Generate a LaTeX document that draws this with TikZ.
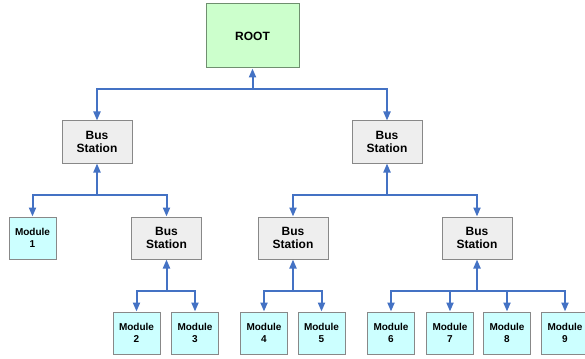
\documentclass[tikz,border=0pt]{standalone}
\usepackage{fontspec}
\setmainfont{Liberation Sans}
\usetikzlibrary{arrows.meta}
\definecolor{linkblue}{HTML}{4472C4}
\definecolor{rootfill}{HTML}{CCFFCC}
\definecolor{rootdraw}{HTML}{6F8F6F}
\definecolor{bsfill}{HTML}{EEEEEE}
\definecolor{boxdraw}{HTML}{888888}
\definecolor{modfill}{HTML}{CCFFFF}
\tikzset{
  rootbox/.style={draw=rootdraw, line width=1pt, fill=rootfill, minimum width=93pt, minimum height=64pt, inner sep=0pt, font=\fontsize{12}{14}\selectfont\bfseries, align=center},
  busbox/.style={draw=boxdraw, line width=1pt, fill=bsfill, minimum width=70pt, minimum height=42pt, inner sep=0pt, font=\fontsize{12}{13}\selectfont\bfseries, align=center},
  modbox/.style={draw=boxdraw, line width=1pt, fill=modfill, minimum width=47pt, minimum height=42pt, inner sep=0pt, font=\fontsize{10}{12}\selectfont\bfseries, align=center},
  link/.style={draw=linkblue, line width=2pt},
  tip/.tip={Triangle[width=7pt,length=9pt]}
}
\begin{document}
\begin{tikzpicture}[x=1pt,y=-1pt]
\useasboundingbox (0,0) rectangle (585,358);
\node[rootbox] (root) at (252.5,36) {ROOT};
\node[busbox] (bs1) at (97,142) {Bus\\Station};
\node[busbox] (bs2) at (387,142) {Bus\\Station};
\node[modbox] (m1) at (32.5,238) {Module\\1};
\node[busbox] (bs3) at (166.5,238) {Bus\\Station};
\node[busbox] (bs4) at (293,238) {Bus\\Station};
\node[busbox] (bs5) at (477,238) {Bus\\Station};
\node[modbox] (m2) at (136.5,333) {Module\\2};
\node[modbox] (m3) at (195,333) {Module\\3};
\node[modbox] (m4) at (264,333) {Module\\4};
\node[modbox] (m5) at (321.5,333) {Module\\5};
\node[modbox] (m6) at (391,333) {Module\\6};
\node[modbox] (m7) at (450,333) {Module\\7};
\node[modbox] (m8) at (507,333) {Module\\8};
\node[modbox] (m9) at (565,333) {Module\\9};
% level 1
\coordinate (b1) at (root.south |- 0,89);
\draw[link,{tip}-] (root.south) -- (b1);
\draw[link,-{tip}] (b1) -| (bs1.north);
\draw[link,-{tip}] (b1) -| (bs2.north);
% level 2 left
\coordinate (b2) at (bs1.south |- 0,195);
\draw[link,{tip}-] (bs1.south) -- (b2);
\draw[link,-{tip}] (b2) -| (m1.north);
\draw[link,-{tip}] (b2) -| (bs3.north);
% level 2 right
\coordinate (b3) at (bs2.south |- 0,195);
\draw[link,{tip}-] (bs2.south) -- (b3);
\draw[link,-{tip}] (b3) -| (bs4.north);
\draw[link,-{tip}] (b3) -| (bs5.north);
% level 3
\coordinate (b4) at (bs3.south |- 0,291);
\draw[link,{tip}-] (bs3.south) -- (b4);
\draw[link,-{tip}] (b4) -| (m2.north);
\draw[link,-{tip}] (b4) -| (m3.north);
\coordinate (b5) at (bs4.south |- 0,291);
\draw[link,{tip}-] (bs4.south) -- (b5);
\draw[link,-{tip}] (b5) -| (m4.north);
\draw[link,-{tip}] (b5) -| (m5.north);
\coordinate (b6) at (bs5.south |- 0,291);
\draw[link,{tip}-] (bs5.south) -- (b6);
\draw[link,-{tip}] (b6) -| (m6.north);
\draw[link,-{tip}] (b6) -| (m7.north);
\draw[link,-{tip}] (b6) -| (m8.north);
\draw[link,-{tip}] (b6) -| (m9.north);
\end{tikzpicture}
\end{document}
